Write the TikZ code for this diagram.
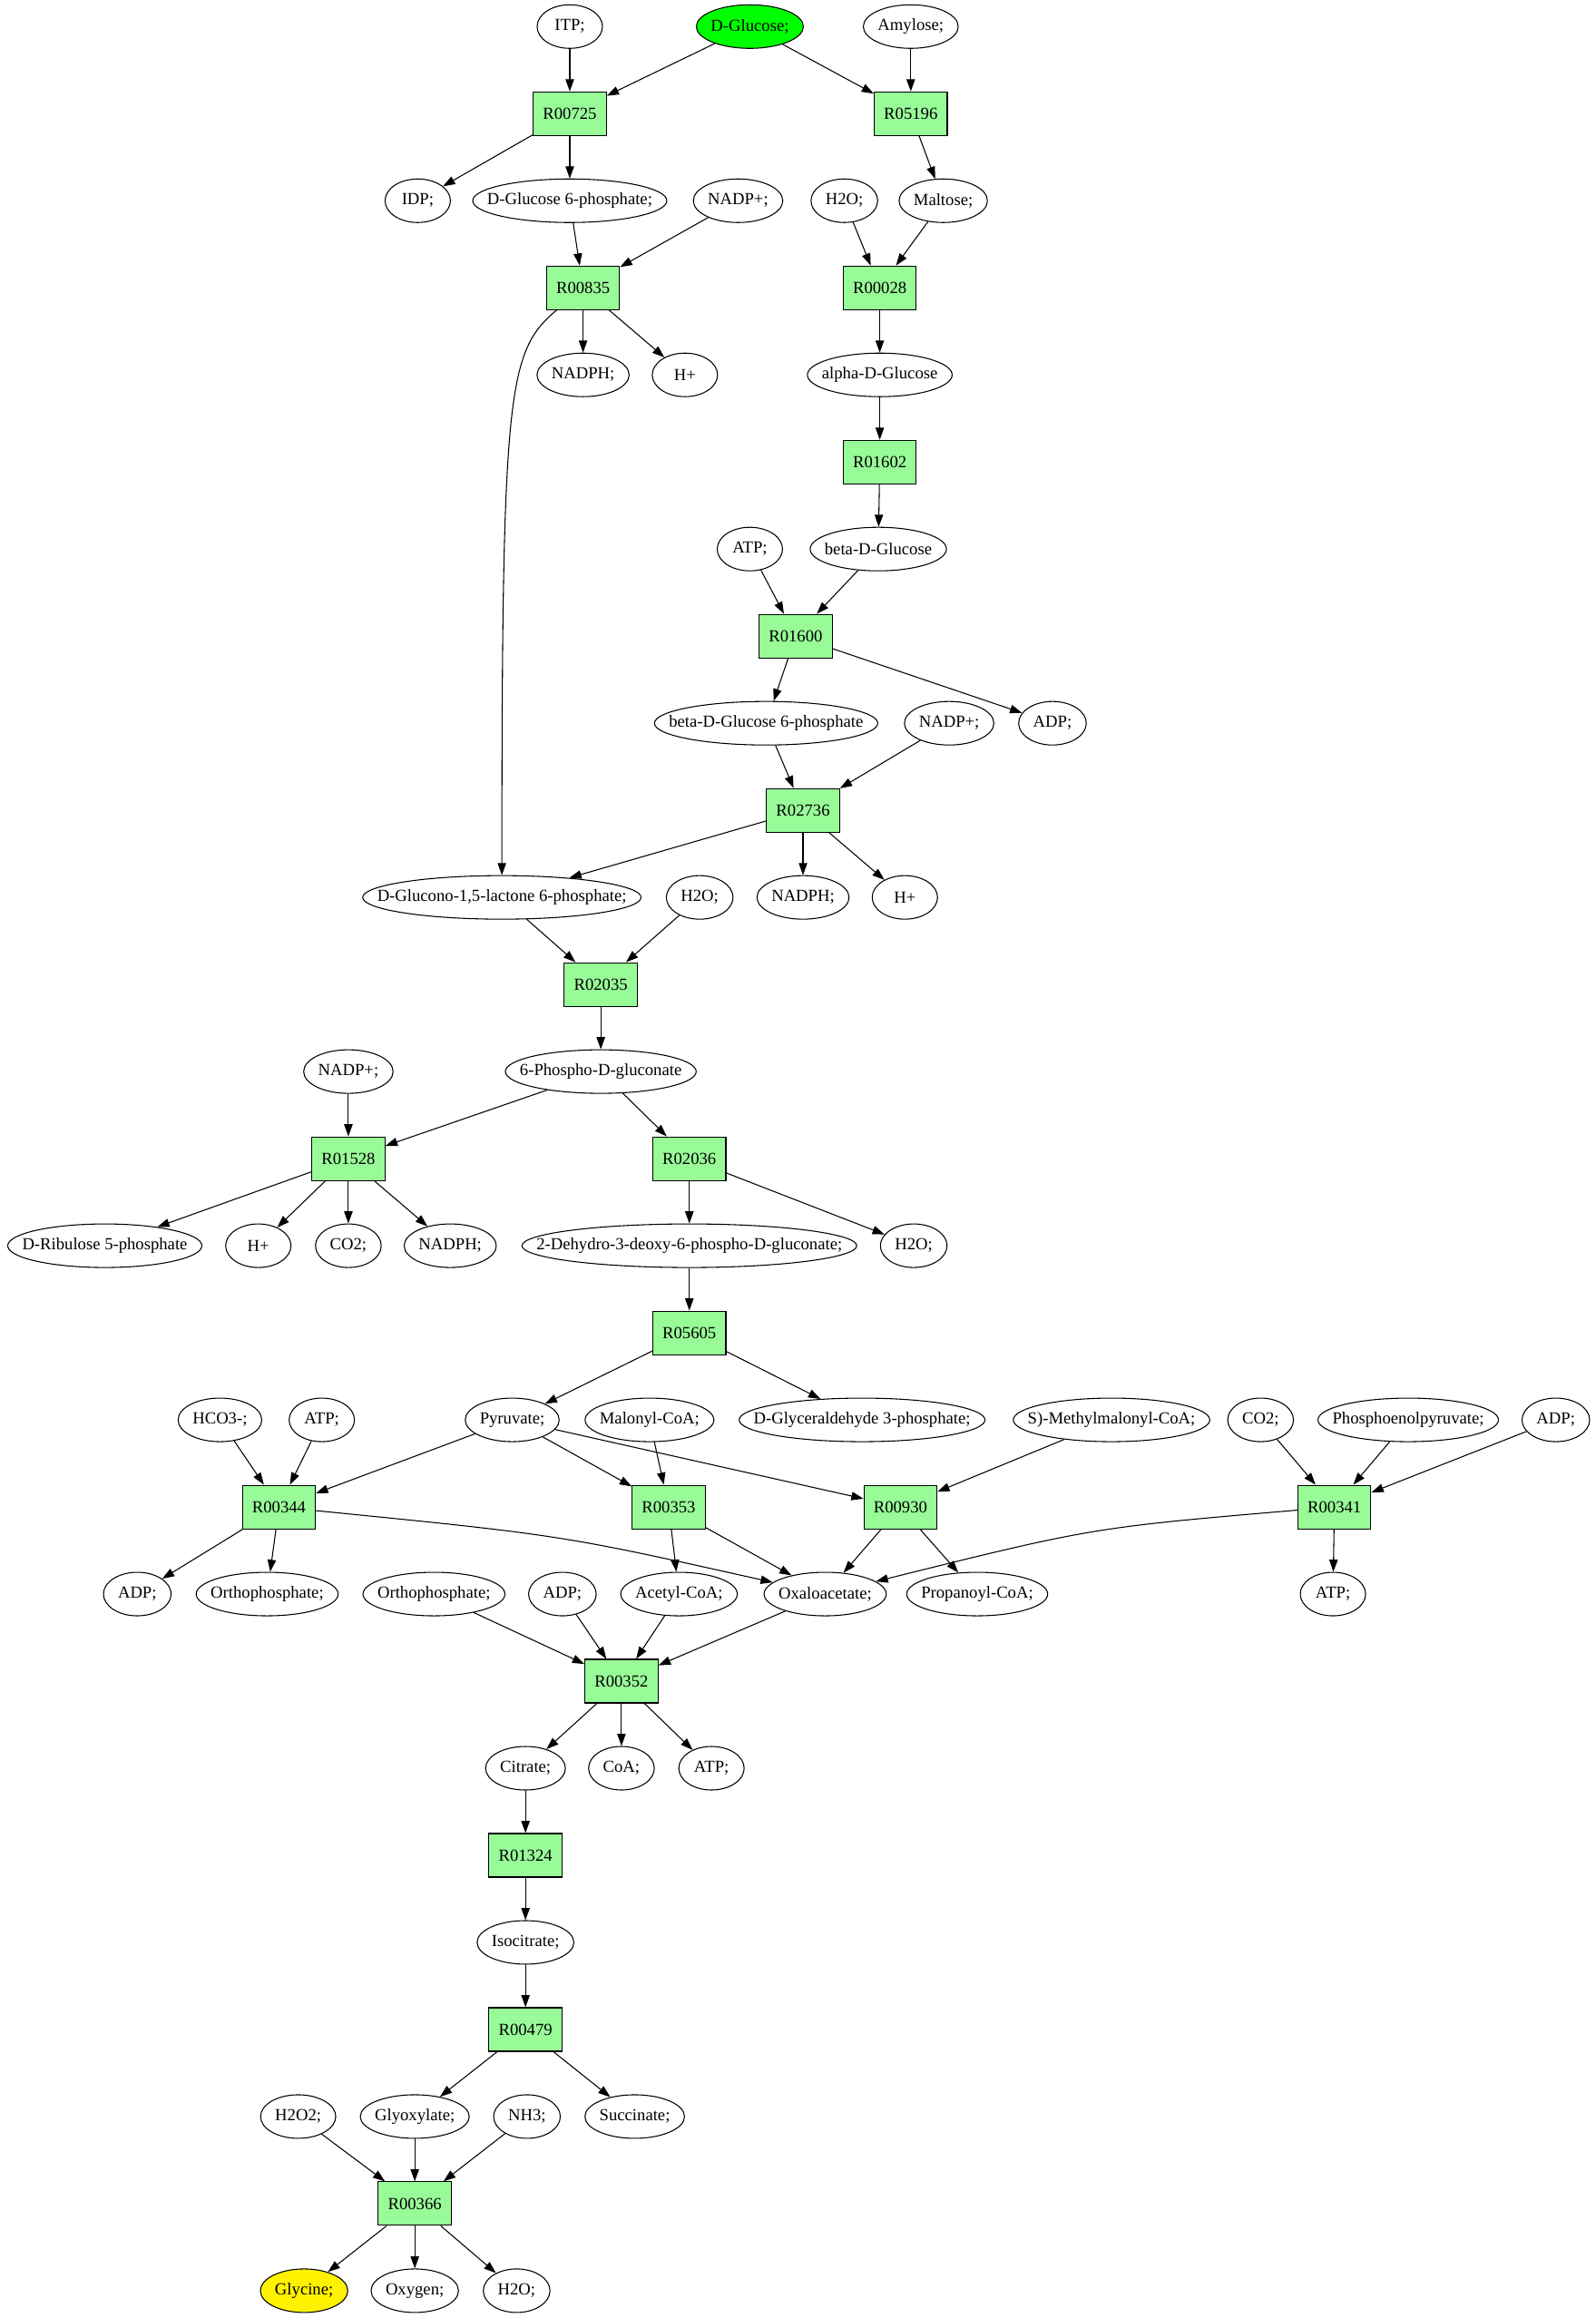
\documentclass[tikz,border=0pt]{standalone}
\usepackage{fontspec}
\setmainfont{Liberation Serif}
\usetikzlibrary{arrows.meta,shapes.geometric}
\definecolor{palegreen}{HTML}{98FB98}
\newlength\molwd
\newcommand\molfont{\fontsize{14pt}{17pt}\selectfont}
\newcommand\mol[4][]{\pgfinterruptpicture\settowidth\molwd{\molfont #4}\global\molwd=\molwd\endpgfinterruptpicture
\node[mol,minimum width={max(54pt,\molwd+24pt)},#1] (#2) at (#3) {#4};}
\begin{document}
\begin{tikzpicture}[x=1.22pt, y=-1.22pt, line width=0.8pt, >={Triangle[length=10pt,width=7pt]},
mol/.style={ellipse, draw, inner xsep=-100pt, inner ysep=-100pt, minimum height=36pt, font=\molfont},
rxn/.style={rectangle, draw, fill=palegreen, inner xsep=8pt, inner ysep=0pt, minimum width=54pt, minimum height=36pt, font=\molfont}]
\useasboundingbox (0,0) rectangle (1081,1570.5);
\mol{itp}{386,18}{ITP;}
\mol[fill=green]{glc}{508,18}{D-Glucose;}
\mol{amylose}{617,18}{Amylose;}
\node[rxn] (R00725) at (386,77) {R00725};
\node[rxn] (R05196) at (617,77) {R05196};
\mol{idp}{283,136}{IDP;}
\mol{gsixp}{386,136}{D-Glucose 6-phosphate;}
\mol{nadpA}{500,136}{NADP+;}
\mol{waterA}{572,136}{H2O;}
\mol{maltose}{639,136}{Maltose;}
\node[rxn] (R00835) at (395,195) {R00835};
\node[rxn] (R00028) at (596,195) {R00028};
\mol{nadphA}{395,254}{NADPH;}
\mol{hA}{464,254}{H+}
\mol{aglc}{596,254}{alpha-D-Glucose}
\node[rxn] (R01602) at (596,313) {R01602};
\mol{atpA}{508,372}{ATP;}
\mol{bglc}{595,372}{beta-D-Glucose}
\node[rxn] (R01600) at (539,431) {R01600};
\mol{bgsixp}{519,490}{beta-D-Glucose 6-phosphate}
\mol{nadpB}{643,490}{NADP+;}
\mol{adpA}{713,490}{ADP;}
\node[rxn] (R02736) at (544,549) {R02736};
\mol{lactone}{340,608}{D-Glucono-1,5-lactone 6-phosphate;}
\mol{waterB}{474,608}{H2O;}
\mol{nadphB}{544,608}{NADPH;}
\mol{hB}{613,608}{H+}
\node[rxn] (R02035) at (407,667) {R02035};
\mol{nadpC}{236,726}{NADP+;}
\mol{pgluc}{407,726}{6-Phospho-D-gluconate}
\node[rxn] (R01528) at (236,785) {R01528};
\node[rxn] (R02036) at (467,785) {R02036};
\mol{ribulose}{71,844}{D-Ribulose 5-phosphate}
\mol{hC}{175,844}{H+}
\mol{cotwoA}{236,844}{CO2;}
\mol{nadphC}{305,844}{NADPH;}
\mol{kdpg}{467,844}{2-Dehydro-3-deoxy-6-phospho-D-gluconate;}
\mol{waterC}{619,844}{H2O;}
\node[rxn] (R05605) at (467,903) {R05605};
%
\mol{hco}{149,962}{HCO3-;}
\mol{atpB}{218,962}{ATP;}
\mol{pyr}{347,962}{Pyruvate;}
\mol{malcoa}{440,962}{Malonyl-CoA;}
\mol{gap}{584,962}{D-Glyceraldehyde 3-phosphate;}
\mol{mmcoa}{753,962}{S)-Methylmalonyl-CoA;}
\mol{cotwoB}{854,962}{CO2;}
\mol{pep}{954,962}{Phosphoenolpyruvate;}
\mol{adpB}{1054,962}{ADP;}
\node[rxn] (R00344) at (189,1021) {R00344};
\node[rxn] (R00353) at (453,1021) {R00353};
\node[rxn] (R00930) at (610,1021) {R00930};
\node[rxn] (R00341) at (904,1021) {R00341};
\mol{adpC}{93,1080}{ADP;}
\mol{piA}{181,1080}{Orthophosphate;}
\mol{piB}{294,1080}{Orthophosphate;}
\mol{adpD}{381,1080}{ADP;}
\mol{accoa}{460,1080}{Acetyl-CoA;}
\mol{oaa}{559,1080}{Oxaloacetate;}
\mol{prcoa}{662,1080}{Propanoyl-CoA;}
\mol{atpC}{903,1080}{ATP;}
\node[rxn] (R00352) at (421,1139) {R00352};
\mol{citrate}{356,1198}{Citrate;}
\mol{coa}{421,1198}{CoA;}
\mol{atpD}{482,1198}{ATP;}
\node[rxn] (R01324) at (356,1257) {R01324};
\mol{icit}{356,1316}{Isocitrate;}
\node[rxn] (R00479) at (356,1375) {R00479};
\mol{hperox}{202,1434}{H2O2;}
\mol{glyox}{281,1434}{Glyoxylate;}
\mol{ammonia}{357,1434}{NH3;}
\mol{succ}{430,1434}{Succinate;}
\node[rxn] (R00366) at (281,1493) {R00366};
\mol[fill=yellow]{gly}{206,1552}{Glycine;}
\mol{oxygen}{281,1552}{Oxygen;}
\mol{waterD}{350,1552}{H2O;}
%
\draw[->] (itp) -- (R00725);
\draw[->] (glc) -- (R00725);
\draw[->] (R00725) -- (idp);
\draw[->] (R00725) -- (gsixp);
\draw[->] (glc) -- (R05196);
\draw[->] (amylose) -- (R05196);
\draw[->] (R05196) -- (maltose);
\draw[->] (gsixp) -- (R00835);
\draw[->] (nadpA) -- (R00835);
\draw[->] (R00835) -- (nadphA);
\draw[->] (R00835) -- (hA);
\draw[->] (R00835) .. controls (344,238) and (340,262) .. (lactone);
\draw[->] (waterA) -- (R00028);
\draw[->] (maltose) -- (R00028);
\draw[->] (R00028) -- (aglc);
\draw[->] (aglc) -- (R01602);
\draw[->] (R01602) -- (bglc);
\draw[->] (atpA) -- (R01600);
\draw[->] (bglc) -- (R01600);
\draw[->] (R01600) -- (bgsixp);
\draw[->] (R01600) -- (adpA);
\draw[->] (bgsixp) -- (R02736);
\draw[->] (nadpB) -- (R02736);
\draw[->] (R02736) -- (lactone);
\draw[->] (R02736) -- (nadphB);
\draw[->] (R02736) -- (hB);
\draw[->] (lactone) -- (R02035);
\draw[->] (waterB) -- (R02035);
\draw[->] (R02035) -- (pgluc);
\draw[->] (nadpC) -- (R01528);
\draw[->] (pgluc) -- (R01528);
\draw[->] (R01528) -- (ribulose);
\draw[->] (R01528) -- (hC);
\draw[->] (R01528) -- (cotwoA);
\draw[->] (R01528) -- (nadphC);
\draw[->] (pgluc) -- (R02036);
\draw[->] (R02036) -- (kdpg);
\draw[->] (R02036) -- (waterC);
\draw[->] (kdpg) -- (R05605);
\draw[->] (R05605) -- (pyr);
\draw[->] (R05605) -- (gap);
%
\draw[->] (hco) -- (R00344);
\draw[->] (atpB) -- (R00344);
\draw[->] (pyr) -- (R00344);
\draw[->] (R00344) -- (adpC);
\draw[->] (R00344) -- (piA);
\draw[->] (R00344) .. controls (380,1040) .. (oaa);
\draw[->] (pyr) -- (R00353);
\draw[->] (malcoa) -- (R00353);
\draw[->] (R00353) -- (accoa);
\draw[->] (R00353) -- (oaa);
\draw[->] (pyr) -- (R00930);
\draw[->] (mmcoa) -- (R00930);
\draw[->] (R00930) -- (oaa);
\draw[->] (R00930) -- (prcoa);
\draw[->] (cotwoB) -- (R00341);
\draw[->] (pep) -- (R00341);
\draw[->] (adpB) -- (R00341);
\draw[->] (R00341) -- (atpC);
\draw[->] (R00341) .. controls (740,1035) .. (oaa);
\draw[->] (piB) -- (R00352);
\draw[->] (adpD) -- (R00352);
\draw[->] (accoa) -- (R00352);
\draw[->] (oaa) -- (R00352);
\draw[->] (R00352) -- (citrate);
\draw[->] (R00352) -- (coa);
\draw[->] (R00352) -- (atpD);
\draw[->] (citrate) -- (R01324);
\draw[->] (R01324) -- (icit);
\draw[->] (icit) -- (R00479);
\draw[->] (R00479) -- (glyox);
\draw[->] (R00479) -- (succ);
\draw[->] (hperox) -- (R00366);
\draw[->] (glyox) -- (R00366);
\draw[->] (ammonia) -- (R00366);
\draw[->] (R00366) -- (gly);
\draw[->] (R00366) -- (oxygen);
\draw[->] (R00366) -- (waterD);
\end{tikzpicture}
\end{document}
